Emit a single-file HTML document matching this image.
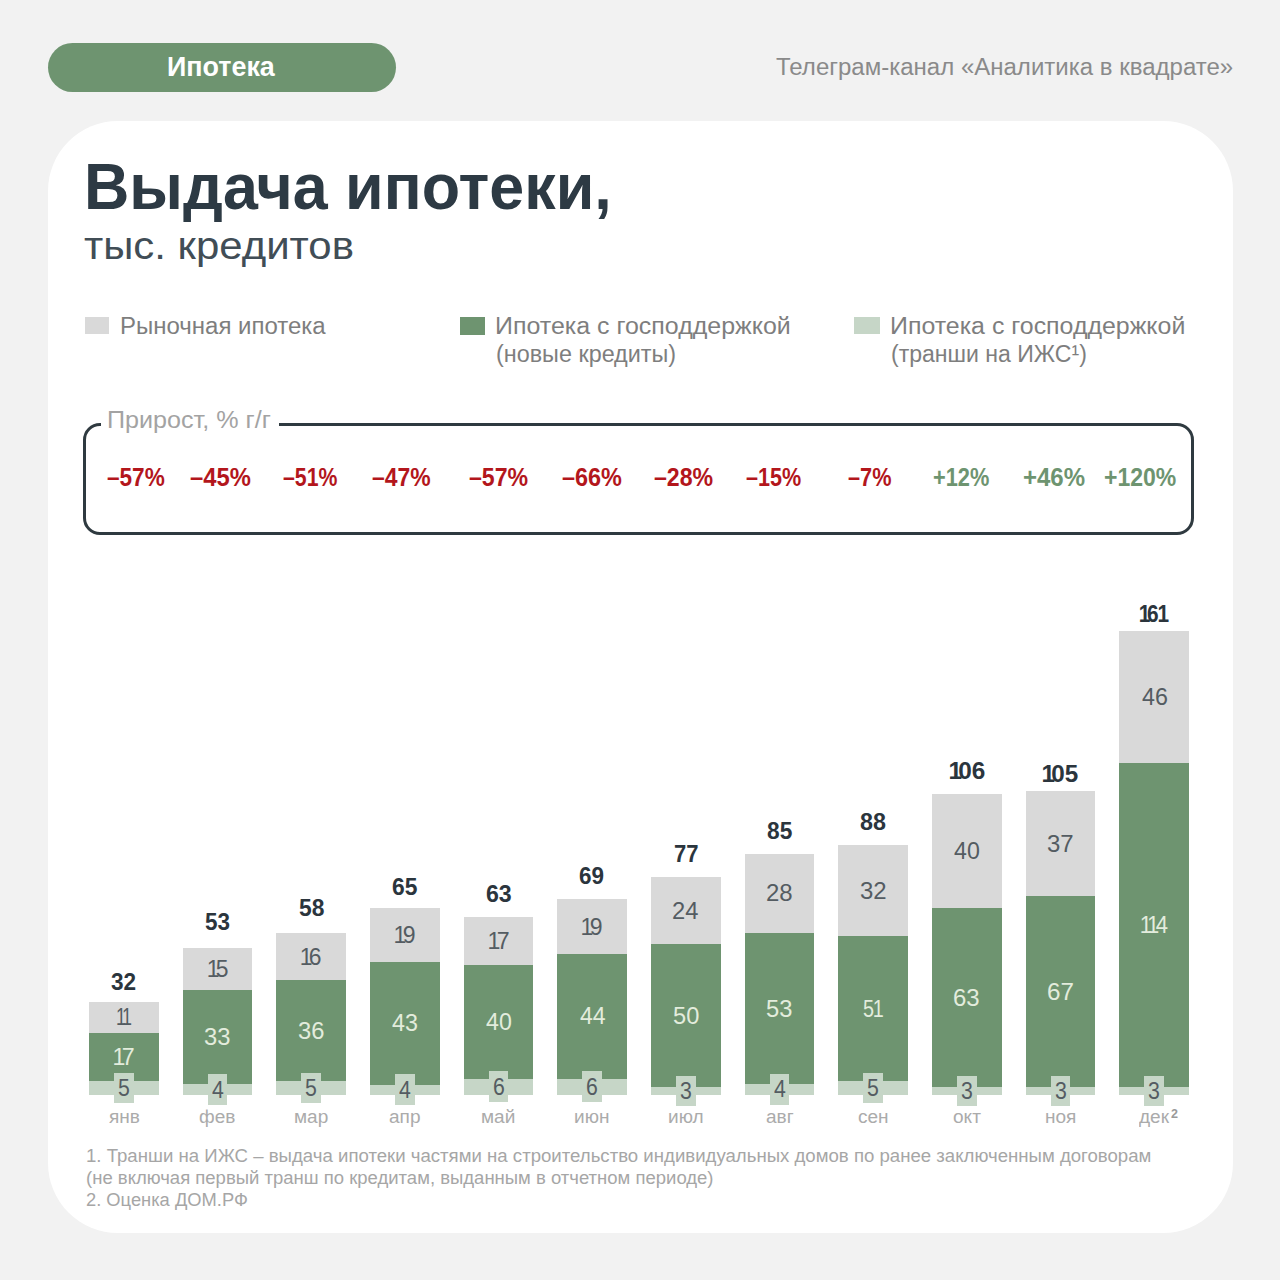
<!DOCTYPE html>
<html><head><meta charset="utf-8"><style>
html,body{margin:0;padding:0;}
body{width:1280px;height:1280px;background:#f2f2f2;position:relative;overflow:hidden;font-family:'Liberation Sans', sans-serif;}
</style></head><body>
<div style="position:absolute;left:48.00px;top:42.50px;width:348.00px;height:49.50px;background:#6e9470;border-radius:25px"></div>
<div style="position:absolute;left:167.25px;top:52.00px;font:bold 28.26px/1 'Liberation Sans', sans-serif;color:#ffffff;white-space:nowrap;letter-spacing:0.00px;transform:scaleX(0.9510);transform-origin:0 0;">Ипотека</div>
<div style="position:absolute;left:776.02px;top:56.00px;font:23.62px/1 'Liberation Sans', sans-serif;color:#8a8a8a;white-space:nowrap;letter-spacing:0.00px;transform:scaleX(1.0170);transform-origin:0 0;">Телеграм-канал «Аналитика в квадрате»</div>
<div style="position:absolute;left:48.00px;top:121.00px;width:1185.00px;height:1112.00px;background:#ffffff;border-radius:70px"></div>
<div style="position:absolute;left:84.22px;top:154.00px;font:bold 65.22px/1 'Liberation Sans', sans-serif;color:#2d3a44;white-space:nowrap;letter-spacing:0.00px;transform:scaleX(0.9632);transform-origin:0 0;">Выдача ипотеки,</div>
<div style="position:absolute;left:84.17px;top:227.00px;font:38.87px/1 'Liberation Sans', sans-serif;color:#414d56;white-space:nowrap;letter-spacing:0.00px;transform:scaleX(1.0791);transform-origin:0 0;">тыс. кредитов</div>
<div style="position:absolute;left:84.50px;top:316.60px;width:24.50px;height:17.90px;background:#d9d9d9;"></div>
<div style="position:absolute;left:120.38px;top:315.00px;font:23.04px/1 'Liberation Sans', sans-serif;color:#7e7e7e;white-space:nowrap;letter-spacing:0.00px;transform:scaleX(1.0416);transform-origin:0 0;">Рыночная ипотека</div>
<div style="position:absolute;left:459.50px;top:316.50px;width:25.20px;height:18.00px;background:#6e9470;"></div>
<div style="position:absolute;left:495.00px;top:314.00px;font:23.77px/1 'Liberation Sans', sans-serif;color:#7e7e7e;white-space:nowrap;letter-spacing:0.00px;transform:scaleX(1.0496);transform-origin:0 0;">Ипотека с господдержкой</div>
<div style="position:absolute;left:495.60px;top:342.00px;font:23.77px/1 'Liberation Sans', sans-serif;color:#7e7e7e;white-space:nowrap;letter-spacing:0.00px;transform:scaleX(0.9836);transform-origin:0 0;">(новые кредиты)</div>
<div style="position:absolute;left:854.00px;top:316.80px;width:26.20px;height:17.70px;background:#c6d6c7;"></div>
<div style="position:absolute;left:890.01px;top:314.00px;font:23.77px/1 'Liberation Sans', sans-serif;color:#7e7e7e;white-space:nowrap;letter-spacing:0.00px;transform:scaleX(1.0481);transform-origin:0 0;">Ипотека с господдержкой</div>
<div style="position:absolute;left:890.62px;top:342.00px;font:23.77px/1 'Liberation Sans', sans-serif;color:#7e7e7e;white-space:nowrap;letter-spacing:0.00px;transform:scaleX(0.9696);transform-origin:0 0;">(транши на ИЖС¹)</div>
<div style="position:absolute;left:83.3px;top:423px;width:1110.5px;height:111.7px;box-sizing:border-box;border:3px solid #2f3a40;border-radius:17px"></div>
<div style="position:absolute;left:101.00px;top:418.00px;width:178.00px;height:12.00px;background:#ffffff;"></div>
<div style="position:absolute;left:107.39px;top:408.00px;font:24.20px/1 'Liberation Sans', sans-serif;color:#a3a3a3;white-space:nowrap;letter-spacing:0.00px;transform:scaleX(1.0382);transform-origin:0 0;">Прирост, % г/г</div>
<div style="position:absolute;left:106.62px;top:465.00px;font:bold 25.51px/1 'Liberation Sans', sans-serif;color:#b3161c;white-space:nowrap;letter-spacing:0.00px;transform:scaleX(0.8858);transform-origin:0 0;">–57%</div>
<div style="position:absolute;left:189.99px;top:465.00px;font:bold 25.51px/1 'Liberation Sans', sans-serif;color:#b3161c;white-space:nowrap;letter-spacing:0.00px;transform:scaleX(0.9328);transform-origin:0 0;">–45%</div>
<div style="position:absolute;left:283.06px;top:465.00px;font:bold 25.51px/1 'Liberation Sans', sans-serif;color:#b3161c;white-space:nowrap;letter-spacing:0.00px;transform:scaleX(0.8342);transform-origin:0 0;">–51%</div>
<div style="position:absolute;left:371.81px;top:465.00px;font:bold 25.51px/1 'Liberation Sans', sans-serif;color:#b3161c;white-space:nowrap;letter-spacing:0.00px;transform:scaleX(0.8999);transform-origin:0 0;">–47%</div>
<div style="position:absolute;left:468.91px;top:465.00px;font:bold 25.51px/1 'Liberation Sans', sans-serif;color:#b3161c;white-space:nowrap;letter-spacing:0.00px;transform:scaleX(0.9077);transform-origin:0 0;">–57%</div>
<div style="position:absolute;left:562.10px;top:465.00px;font:bold 25.51px/1 'Liberation Sans', sans-serif;color:#b3161c;white-space:nowrap;letter-spacing:0.00px;transform:scaleX(0.9187);transform-origin:0 0;">–66%</div>
<div style="position:absolute;left:653.51px;top:465.00px;font:bold 25.51px/1 'Liberation Sans', sans-serif;color:#b3161c;white-space:nowrap;letter-spacing:0.00px;transform:scaleX(0.9077);transform-origin:0 0;">–28%</div>
<div style="position:absolute;left:746.05px;top:465.00px;font:bold 25.51px/1 'Liberation Sans', sans-serif;color:#b3161c;white-space:nowrap;letter-spacing:0.00px;transform:scaleX(0.8467);transform-origin:0 0;">–15%</div>
<div style="position:absolute;left:847.65px;top:465.00px;font:bold 25.51px/1 'Liberation Sans', sans-serif;color:#b3161c;white-space:nowrap;letter-spacing:0.00px;transform:scaleX(0.8506);transform-origin:0 0;">–7%</div>
<div style="position:absolute;left:933.13px;top:465.00px;font:bold 25.51px/1 'Liberation Sans', sans-serif;color:#6e9470;white-space:nowrap;letter-spacing:0.00px;transform:scaleX(0.8541);transform-origin:0 0;">+12%</div>
<div style="position:absolute;left:1023.04px;top:465.00px;font:bold 25.51px/1 'Liberation Sans', sans-serif;color:#6e9470;white-space:nowrap;letter-spacing:0.00px;transform:scaleX(0.9412);transform-origin:0 0;">+46%</div>
<div style="position:absolute;left:1104.08px;top:465.00px;font:bold 25.51px/1 'Liberation Sans', sans-serif;color:#6e9470;white-space:nowrap;letter-spacing:0.00px;transform:scaleX(0.9025);transform-origin:0 0;">+120%</div>
<div style="position:absolute;left:89.10px;top:1001.60px;width:69.60px;height:93.00px;background:#d9d9d9;"></div>
<div style="position:absolute;left:89.10px;top:1033.10px;width:69.60px;height:61.50px;background:#6e9470;"></div>
<div style="position:absolute;left:89.10px;top:1081.40px;width:69.60px;height:13.20px;background:#c6d6c7;"></div>
<div style="position:absolute;left:111.44px;top:970.00px;font:bold 23.91px/1 'Liberation Sans', sans-serif;color:#2b353d;white-space:nowrap;letter-spacing:0.00px;transform:scaleX(0.9434);transform-origin:0 0;">32</div>
<div style="position:absolute;left:116.73px;top:1006.00px;font:23.48px/1 'Liberation Sans', sans-serif;color:#545c62;white-space:nowrap;letter-spacing:0.00px;transform:scaleX(0.7622);transform-origin:0 0;"><span style="margin:0 -0.16em 0 -0.06em">1</span><span style="margin:0 -0.16em 0 -0.06em">1</span></div>
<div style="position:absolute;left:113.98px;top:1046.00px;font:23.48px/1 'Liberation Sans', sans-serif;color:#e3ecdd;white-space:nowrap;letter-spacing:0.00px;transform:scaleX(0.9873);transform-origin:0 0;"><span style="margin:0 -0.16em 0 -0.06em">1</span>7</div>
<div style="position:absolute;left:114.10px;top:1072.60px;width:19.60px;height:30.80px;background:#c6d6c7;"></div>
<div style="position:absolute;left:117.99px;top:1077.00px;font:23.48px/1 'Liberation Sans', sans-serif;color:#545c62;white-space:nowrap;letter-spacing:0.00px;transform:scaleX(0.9069);transform-origin:0 0;">5</div>
<div style="position:absolute;left:108.70px;top:1108.00px;font:18.30px/1 'Liberation Sans', sans-serif;color:#ababab;white-space:nowrap;letter-spacing:0.00px;transform:scaleX(1.0412);transform-origin:0 0;">янв</div>
<div style="position:absolute;left:182.77px;top:947.80px;width:69.60px;height:146.80px;background:#d9d9d9;"></div>
<div style="position:absolute;left:182.77px;top:990.40px;width:69.60px;height:104.20px;background:#6e9470;"></div>
<div style="position:absolute;left:182.77px;top:1084.30px;width:69.60px;height:10.30px;background:#c6d6c7;"></div>
<div style="position:absolute;left:205.43px;top:910.00px;font:bold 23.91px/1 'Liberation Sans', sans-serif;color:#2b353d;white-space:nowrap;letter-spacing:0.00px;transform:scaleX(0.9394);transform-origin:0 0;">53</div>
<div style="position:absolute;left:207.65px;top:958.00px;font:23.48px/1 'Liberation Sans', sans-serif;color:#545c62;white-space:nowrap;letter-spacing:0.00px;transform:scaleX(0.9755);transform-origin:0 0;"><span style="margin:0 -0.16em 0 -0.06em">1</span>5</div>
<div style="position:absolute;left:204.37px;top:1026.00px;font:23.48px/1 'Liberation Sans', sans-serif;color:#e3ecdd;white-space:nowrap;letter-spacing:0.00px;transform:scaleX(1.0120);transform-origin:0 0;">33</div>
<div style="position:absolute;left:207.77px;top:1074.05px;width:19.60px;height:30.80px;background:#c6d6c7;"></div>
<div style="position:absolute;left:211.77px;top:1079.00px;font:23.48px/1 'Liberation Sans', sans-serif;color:#545c62;white-space:nowrap;letter-spacing:0.00px;transform:scaleX(0.9069);transform-origin:0 0;">4</div>
<div style="position:absolute;left:199.37px;top:1108.00px;font:18.30px/1 'Liberation Sans', sans-serif;color:#ababab;white-space:nowrap;letter-spacing:0.00px;transform:scaleX(1.0412);transform-origin:0 0;">фев</div>
<div style="position:absolute;left:276.44px;top:933.10px;width:69.60px;height:161.50px;background:#d9d9d9;"></div>
<div style="position:absolute;left:276.44px;top:979.70px;width:69.60px;height:114.90px;background:#6e9470;"></div>
<div style="position:absolute;left:276.44px;top:1081.40px;width:69.60px;height:13.20px;background:#c6d6c7;"></div>
<div style="position:absolute;left:299.22px;top:896.00px;font:bold 23.91px/1 'Liberation Sans', sans-serif;color:#2b353d;white-space:nowrap;letter-spacing:0.00px;transform:scaleX(0.9548);transform-origin:0 0;">58</div>
<div style="position:absolute;left:301.32px;top:946.00px;font:23.48px/1 'Liberation Sans', sans-serif;color:#545c62;white-space:nowrap;letter-spacing:0.00px;transform:scaleX(0.9755);transform-origin:0 0;"><span style="margin:0 -0.16em 0 -0.06em">1</span>6</div>
<div style="position:absolute;left:298.04px;top:1020.00px;font:23.48px/1 'Liberation Sans', sans-serif;color:#e3ecdd;white-space:nowrap;letter-spacing:0.00px;transform:scaleX(1.0120);transform-origin:0 0;">36</div>
<div style="position:absolute;left:301.44px;top:1072.60px;width:19.60px;height:30.80px;background:#c6d6c7;"></div>
<div style="position:absolute;left:305.33px;top:1077.00px;font:23.48px/1 'Liberation Sans', sans-serif;color:#545c62;white-space:nowrap;letter-spacing:0.00px;transform:scaleX(0.9069);transform-origin:0 0;">5</div>
<div style="position:absolute;left:293.80px;top:1108.00px;font:18.30px/1 'Liberation Sans', sans-serif;color:#ababab;white-space:nowrap;letter-spacing:0.00px;transform:scaleX(1.0412);transform-origin:0 0;">мар</div>
<div style="position:absolute;left:370.11px;top:908.10px;width:69.60px;height:186.50px;background:#d9d9d9;"></div>
<div style="position:absolute;left:370.11px;top:962.20px;width:69.60px;height:132.40px;background:#6e9470;"></div>
<div style="position:absolute;left:370.11px;top:1084.50px;width:69.60px;height:10.10px;background:#c6d6c7;"></div>
<div style="position:absolute;left:391.60px;top:875.00px;font:bold 23.91px/1 'Liberation Sans', sans-serif;color:#2b353d;white-space:nowrap;letter-spacing:0.00px;transform:scaleX(0.9548);transform-origin:0 0;">65</div>
<div style="position:absolute;left:394.99px;top:924.00px;font:23.48px/1 'Liberation Sans', sans-serif;color:#545c62;white-space:nowrap;letter-spacing:0.00px;transform:scaleX(0.9813);transform-origin:0 0;"><span style="margin:0 -0.16em 0 -0.06em">1</span>9</div>
<div style="position:absolute;left:392.19px;top:1012.00px;font:23.48px/1 'Liberation Sans', sans-serif;color:#e3ecdd;white-space:nowrap;letter-spacing:0.00px;transform:scaleX(0.9927);transform-origin:0 0;">43</div>
<div style="position:absolute;left:395.11px;top:1074.15px;width:19.60px;height:30.80px;background:#c6d6c7;"></div>
<div style="position:absolute;left:399.11px;top:1079.00px;font:23.48px/1 'Liberation Sans', sans-serif;color:#545c62;white-space:nowrap;letter-spacing:0.00px;transform:scaleX(0.9069);transform-origin:0 0;">4</div>
<div style="position:absolute;left:389.14px;top:1108.00px;font:18.30px/1 'Liberation Sans', sans-serif;color:#ababab;white-space:nowrap;letter-spacing:0.00px;transform:scaleX(1.0412);transform-origin:0 0;">апр</div>
<div style="position:absolute;left:463.78px;top:916.90px;width:69.60px;height:177.70px;background:#d9d9d9;"></div>
<div style="position:absolute;left:463.78px;top:965.40px;width:69.60px;height:129.20px;background:#6e9470;"></div>
<div style="position:absolute;left:463.78px;top:1078.60px;width:69.60px;height:16.00px;background:#c6d6c7;"></div>
<div style="position:absolute;left:485.59px;top:882.00px;font:bold 23.91px/1 'Liberation Sans', sans-serif;color:#2b353d;white-space:nowrap;letter-spacing:0.00px;transform:scaleX(0.9680);transform-origin:0 0;">63</div>
<div style="position:absolute;left:488.66px;top:930.00px;font:23.48px/1 'Liberation Sans', sans-serif;color:#545c62;white-space:nowrap;letter-spacing:0.00px;transform:scaleX(0.9873);transform-origin:0 0;"><span style="margin:0 -0.16em 0 -0.06em">1</span>7</div>
<div style="position:absolute;left:485.87px;top:1011.00px;font:23.48px/1 'Liberation Sans', sans-serif;color:#e3ecdd;white-space:nowrap;letter-spacing:0.00px;transform:scaleX(0.9880);transform-origin:0 0;">40</div>
<div style="position:absolute;left:488.78px;top:1071.20px;width:19.60px;height:30.80px;background:#c6d6c7;"></div>
<div style="position:absolute;left:492.57px;top:1076.00px;font:23.48px/1 'Liberation Sans', sans-serif;color:#545c62;white-space:nowrap;letter-spacing:0.00px;transform:scaleX(0.9069);transform-origin:0 0;">6</div>
<div style="position:absolute;left:481.38px;top:1108.00px;font:18.30px/1 'Liberation Sans', sans-serif;color:#ababab;white-space:nowrap;letter-spacing:0.00px;transform:scaleX(1.0412);transform-origin:0 0;">май</div>
<div style="position:absolute;left:557.45px;top:899.40px;width:69.60px;height:195.20px;background:#d9d9d9;"></div>
<div style="position:absolute;left:557.45px;top:953.60px;width:69.60px;height:141.00px;background:#6e9470;"></div>
<div style="position:absolute;left:557.45px;top:1078.60px;width:69.60px;height:16.00px;background:#c6d6c7;"></div>
<div style="position:absolute;left:579.11px;top:864.00px;font:bold 23.91px/1 'Liberation Sans', sans-serif;color:#2b353d;white-space:nowrap;letter-spacing:0.00px;transform:scaleX(0.9399);transform-origin:0 0;">69</div>
<div style="position:absolute;left:582.33px;top:916.00px;font:23.48px/1 'Liberation Sans', sans-serif;color:#545c62;white-space:nowrap;letter-spacing:0.00px;transform:scaleX(0.9813);transform-origin:0 0;"><span style="margin:0 -0.16em 0 -0.06em">1</span>9</div>
<div style="position:absolute;left:579.54px;top:1005.00px;font:23.48px/1 'Liberation Sans', sans-serif;color:#e3ecdd;white-space:nowrap;letter-spacing:0.00px;transform:scaleX(0.9834);transform-origin:0 0;">44</div>
<div style="position:absolute;left:582.45px;top:1071.20px;width:19.60px;height:30.80px;background:#c6d6c7;"></div>
<div style="position:absolute;left:586.24px;top:1076.00px;font:23.48px/1 'Liberation Sans', sans-serif;color:#545c62;white-space:nowrap;letter-spacing:0.00px;transform:scaleX(0.9069);transform-origin:0 0;">6</div>
<div style="position:absolute;left:574.48px;top:1108.00px;font:18.30px/1 'Liberation Sans', sans-serif;color:#ababab;white-space:nowrap;letter-spacing:0.00px;transform:scaleX(1.0412);transform-origin:0 0;">июн</div>
<div style="position:absolute;left:651.12px;top:877.00px;width:69.60px;height:217.60px;background:#d9d9d9;"></div>
<div style="position:absolute;left:651.12px;top:944.40px;width:69.60px;height:150.20px;background:#6e9470;"></div>
<div style="position:absolute;left:651.12px;top:1087.30px;width:69.60px;height:7.30px;background:#c6d6c7;"></div>
<div style="position:absolute;left:673.72px;top:842.00px;font:bold 23.91px/1 'Liberation Sans', sans-serif;color:#2b353d;white-space:nowrap;letter-spacing:0.00px;transform:scaleX(0.9206);transform-origin:0 0;">77</div>
<div style="position:absolute;left:672.48px;top:900.00px;font:23.48px/1 'Liberation Sans', sans-serif;color:#545c62;white-space:nowrap;letter-spacing:0.00px;transform:scaleX(1.0120);transform-origin:0 0;">24</div>
<div style="position:absolute;left:672.72px;top:1005.00px;font:23.48px/1 'Liberation Sans', sans-serif;color:#e3ecdd;white-space:nowrap;letter-spacing:0.00px;transform:scaleX(1.0071);transform-origin:0 0;">50</div>
<div style="position:absolute;left:676.12px;top:1075.55px;width:19.60px;height:30.80px;background:#c6d6c7;"></div>
<div style="position:absolute;left:680.01px;top:1080.00px;font:23.48px/1 'Liberation Sans', sans-serif;color:#545c62;white-space:nowrap;letter-spacing:0.00px;transform:scaleX(0.9069);transform-origin:0 0;">3</div>
<div style="position:absolute;left:668.10px;top:1108.00px;font:18.30px/1 'Liberation Sans', sans-serif;color:#ababab;white-space:nowrap;letter-spacing:0.00px;transform:scaleX(1.0412);transform-origin:0 0;">июл</div>
<div style="position:absolute;left:744.79px;top:853.60px;width:69.60px;height:241.00px;background:#d9d9d9;"></div>
<div style="position:absolute;left:744.79px;top:932.80px;width:69.60px;height:161.80px;background:#6e9470;"></div>
<div style="position:absolute;left:744.79px;top:1084.10px;width:69.60px;height:10.50px;background:#c6d6c7;"></div>
<div style="position:absolute;left:767.32px;top:819.00px;font:bold 23.91px/1 'Liberation Sans', sans-serif;color:#2b353d;white-space:nowrap;letter-spacing:0.00px;transform:scaleX(0.9503);transform-origin:0 0;">85</div>
<div style="position:absolute;left:766.14px;top:882.00px;font:23.48px/1 'Liberation Sans', sans-serif;color:#545c62;white-space:nowrap;letter-spacing:0.00px;transform:scaleX(1.0219);transform-origin:0 0;">28</div>
<div style="position:absolute;left:766.39px;top:998.00px;font:23.48px/1 'Liberation Sans', sans-serif;color:#e3ecdd;white-space:nowrap;letter-spacing:0.00px;transform:scaleX(1.0120);transform-origin:0 0;">53</div>
<div style="position:absolute;left:769.79px;top:1073.95px;width:19.60px;height:30.80px;background:#c6d6c7;"></div>
<div style="position:absolute;left:773.79px;top:1078.00px;font:23.48px/1 'Liberation Sans', sans-serif;color:#545c62;white-space:nowrap;letter-spacing:0.00px;transform:scaleX(0.9069);transform-origin:0 0;">4</div>
<div style="position:absolute;left:765.68px;top:1108.00px;font:18.30px/1 'Liberation Sans', sans-serif;color:#ababab;white-space:nowrap;letter-spacing:0.00px;transform:scaleX(1.0412);transform-origin:0 0;">авг</div>
<div style="position:absolute;left:838.46px;top:844.80px;width:69.60px;height:249.80px;background:#d9d9d9;"></div>
<div style="position:absolute;left:838.46px;top:936.10px;width:69.60px;height:158.50px;background:#6e9470;"></div>
<div style="position:absolute;left:838.46px;top:1081.40px;width:69.60px;height:13.20px;background:#c6d6c7;"></div>
<div style="position:absolute;left:859.80px;top:810.00px;font:bold 23.91px/1 'Liberation Sans', sans-serif;color:#2b353d;white-space:nowrap;letter-spacing:0.00px;transform:scaleX(0.9747);transform-origin:0 0;">88</div>
<div style="position:absolute;left:860.05px;top:880.00px;font:23.48px/1 'Liberation Sans', sans-serif;color:#545c62;white-space:nowrap;letter-spacing:0.00px;transform:scaleX(1.0219);transform-origin:0 0;">32</div>
<div style="position:absolute;left:862.89px;top:998.00px;font:23.48px/1 'Liberation Sans', sans-serif;color:#e3ecdd;white-space:nowrap;letter-spacing:0.00px;transform:scaleX(0.8442);transform-origin:0 0;">5<span style="margin:0 -0.16em 0 -0.06em">1</span></div>
<div style="position:absolute;left:863.46px;top:1072.60px;width:19.60px;height:30.80px;background:#c6d6c7;"></div>
<div style="position:absolute;left:867.35px;top:1077.00px;font:23.48px/1 'Liberation Sans', sans-serif;color:#545c62;white-space:nowrap;letter-spacing:0.00px;transform:scaleX(0.9069);transform-origin:0 0;">5</div>
<div style="position:absolute;left:858.21px;top:1108.00px;font:18.30px/1 'Liberation Sans', sans-serif;color:#ababab;white-space:nowrap;letter-spacing:0.00px;transform:scaleX(1.0412);transform-origin:0 0;">сен</div>
<div style="position:absolute;left:932.13px;top:793.75px;width:69.60px;height:300.85px;background:#d9d9d9;"></div>
<div style="position:absolute;left:932.13px;top:907.50px;width:69.60px;height:187.10px;background:#6e9470;"></div>
<div style="position:absolute;left:932.13px;top:1087.30px;width:69.60px;height:7.30px;background:#c6d6c7;"></div>
<div style="position:absolute;left:949.50px;top:759.00px;font:bold 23.91px/1 'Liberation Sans', sans-serif;color:#2b353d;white-space:nowrap;letter-spacing:0.00px;transform:scaleX(1.0186);transform-origin:0 0;"><span style="margin:0 -0.16em 0 -0.06em">1</span>06</div>
<div style="position:absolute;left:954.22px;top:840.00px;font:23.48px/1 'Liberation Sans', sans-serif;color:#545c62;white-space:nowrap;letter-spacing:0.00px;transform:scaleX(0.9880);transform-origin:0 0;">40</div>
<div style="position:absolute;left:953.48px;top:987.00px;font:23.48px/1 'Liberation Sans', sans-serif;color:#e3ecdd;white-space:nowrap;letter-spacing:0.00px;transform:scaleX(1.0219);transform-origin:0 0;">63</div>
<div style="position:absolute;left:957.13px;top:1075.55px;width:19.60px;height:30.80px;background:#c6d6c7;"></div>
<div style="position:absolute;left:961.02px;top:1080.00px;font:23.48px/1 'Liberation Sans', sans-serif;color:#545c62;white-space:nowrap;letter-spacing:0.00px;transform:scaleX(0.9069);transform-origin:0 0;">3</div>
<div style="position:absolute;left:952.78px;top:1108.00px;font:18.30px/1 'Liberation Sans', sans-serif;color:#ababab;white-space:nowrap;letter-spacing:0.00px;transform:scaleX(1.0412);transform-origin:0 0;">окт</div>
<div style="position:absolute;left:1025.80px;top:790.90px;width:69.60px;height:303.70px;background:#d9d9d9;"></div>
<div style="position:absolute;left:1025.80px;top:896.10px;width:69.60px;height:198.50px;background:#6e9470;"></div>
<div style="position:absolute;left:1025.80px;top:1087.30px;width:69.60px;height:7.30px;background:#c6d6c7;"></div>
<div style="position:absolute;left:1043.00px;top:762.00px;font:bold 23.91px/1 'Liberation Sans', sans-serif;color:#2b353d;white-space:nowrap;letter-spacing:0.00px;transform:scaleX(1.0143);transform-origin:0 0;"><span style="margin:0 -0.16em 0 -0.06em">1</span>05</div>
<div style="position:absolute;left:1047.39px;top:833.00px;font:23.48px/1 'Liberation Sans', sans-serif;color:#545c62;white-space:nowrap;letter-spacing:0.00px;transform:scaleX(1.0219);transform-origin:0 0;">37</div>
<div style="position:absolute;left:1047.14px;top:981.00px;font:23.48px/1 'Liberation Sans', sans-serif;color:#e3ecdd;white-space:nowrap;letter-spacing:0.00px;transform:scaleX(1.0320);transform-origin:0 0;">67</div>
<div style="position:absolute;left:1050.80px;top:1075.55px;width:19.60px;height:30.80px;background:#c6d6c7;"></div>
<div style="position:absolute;left:1054.69px;top:1080.00px;font:23.48px/1 'Liberation Sans', sans-serif;color:#545c62;white-space:nowrap;letter-spacing:0.00px;transform:scaleX(0.9069);transform-origin:0 0;">3</div>
<div style="position:absolute;left:1044.83px;top:1108.00px;font:18.30px/1 'Liberation Sans', sans-serif;color:#ababab;white-space:nowrap;letter-spacing:0.00px;transform:scaleX(1.0412);transform-origin:0 0;">ноя</div>
<div style="position:absolute;left:1119.47px;top:631.10px;width:69.60px;height:463.50px;background:#d9d9d9;"></div>
<div style="position:absolute;left:1119.47px;top:763.10px;width:69.60px;height:331.50px;background:#6e9470;"></div>
<div style="position:absolute;left:1119.47px;top:1087.30px;width:69.60px;height:7.30px;background:#c6d6c7;"></div>
<div style="position:absolute;left:1139.50px;top:602.00px;font:bold 23.91px/1 'Liberation Sans', sans-serif;color:#2b353d;white-space:nowrap;letter-spacing:0.00px;transform:scaleX(0.8718);transform-origin:0 0;"><span style="margin:0 -0.16em 0 -0.06em">1</span>6<span style="margin:0 -0.16em 0 -0.06em">1</span></div>
<div style="position:absolute;left:1141.55px;top:686.00px;font:23.48px/1 'Liberation Sans', sans-serif;color:#545c62;white-space:nowrap;letter-spacing:0.00px;transform:scaleX(0.9927);transform-origin:0 0;">46</div>
<div style="position:absolute;left:1140.91px;top:914.00px;font:23.48px/1 'Liberation Sans', sans-serif;color:#e3ecdd;white-space:nowrap;letter-spacing:0.00px;transform:scaleX(0.9384);transform-origin:0 0;"><span style="margin:0 -0.16em 0 -0.06em">1</span><span style="margin:0 -0.16em 0 -0.06em">1</span>4</div>
<div style="position:absolute;left:1144.47px;top:1075.55px;width:19.60px;height:30.80px;background:#c6d6c7;"></div>
<div style="position:absolute;left:1148.36px;top:1080.00px;font:23.48px/1 'Liberation Sans', sans-serif;color:#545c62;white-space:nowrap;letter-spacing:0.00px;transform:scaleX(0.9069);transform-origin:0 0;">3</div>
<div style="position:absolute;left:1139.12px;top:1108.00px;font:18.30px/1 'Liberation Sans', sans-serif;color:#ababab;white-space:nowrap;letter-spacing:0.00px;transform:scaleX(1.0412);transform-origin:0 0;">дек</div>
<div style="position:absolute;left:1170.56px;top:1108.00px;font:bold 12.86px/1 'Liberation Sans', sans-serif;color:#9a9a9a;white-space:nowrap;letter-spacing:0.00px;transform:scaleX(0.9722);transform-origin:0 0;">2</div>
<div style="position:absolute;left:85.60px;top:1147.00px;font:18.12px/1 'Liberation Sans', sans-serif;color:#a6a6a6;white-space:nowrap;letter-spacing:0.00px;transform:scaleX(1.0274);transform-origin:0 0;">1. Транши на ИЖС – выдача ипотеки частями на строительство индивидуальных домов по ранее заключенным договорам</div>
<div style="position:absolute;left:85.89px;top:1169.00px;font:18.12px/1 'Liberation Sans', sans-serif;color:#a6a6a6;white-space:nowrap;letter-spacing:0.00px;transform:scaleX(1.0217);transform-origin:0 0;">(не включая первый транш по кредитам, выданным в отчетном периоде)</div>
<div style="position:absolute;left:86.08px;top:1192.00px;font:17.57px/1 'Liberation Sans', sans-serif;color:#a6a6a6;white-space:nowrap;letter-spacing:0.00px;transform:scaleX(1.0430);transform-origin:0 0;">2. Оценка ДОМ.РФ</div>
</body></html>
